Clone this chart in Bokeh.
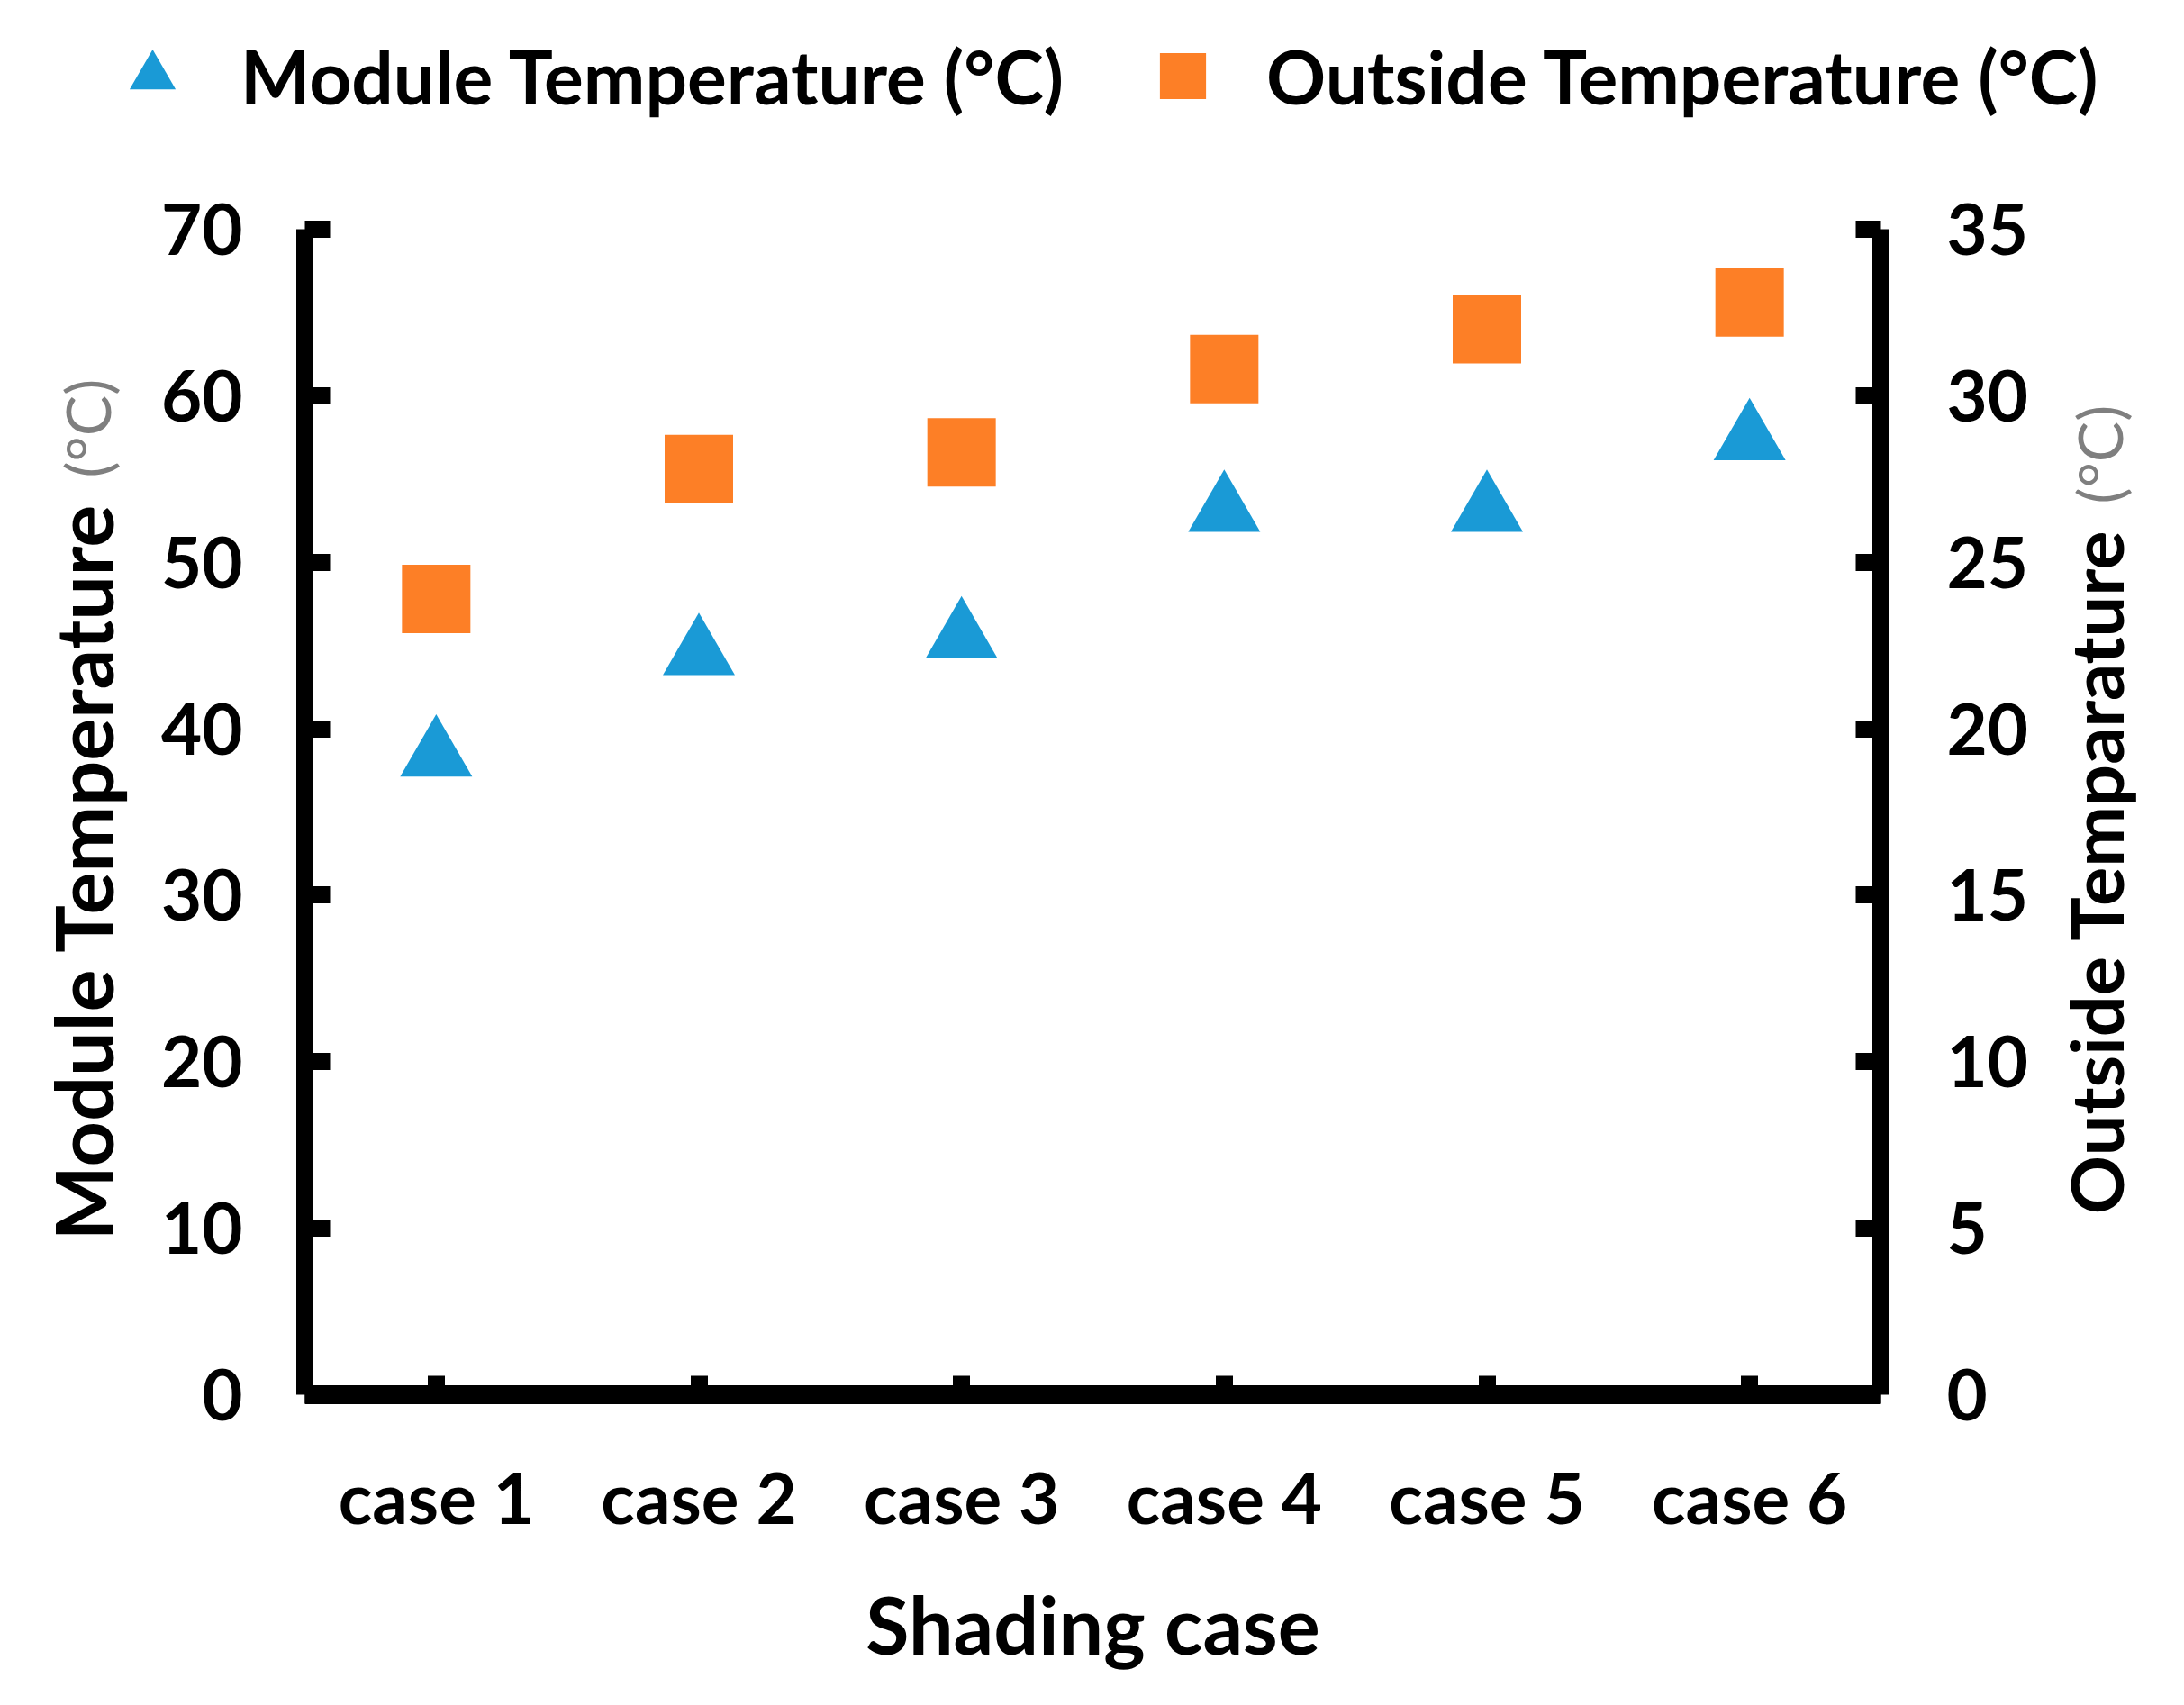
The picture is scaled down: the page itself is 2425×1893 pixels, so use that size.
from bokeh.plotting import figure
from bokeh.models import (FactorRange, Range1d, LinearAxis, FixedTicker,
                          Legend, LegendItem, ColumnDataSource)
from bokeh.layouts import column, row
from bokeh.transform import dodge
from bokeh.core.properties import value
from bokeh.embed import file_html
from bokeh.resources import INLINE

# ---- data ----
cases = ["case 1", "case 2", "case 3", "case 4", "case 5", "case 6"]
module_temp = [39.0, 45.1, 46.1, 53.7, 53.7, 58.0]     # left axis (°C)
outside_temp = [23.9, 27.8, 28.3, 30.8, 32.0, 32.8]    # right axis (°C)
left_ticks = [0, 10, 20, 30, 40, 50, 60, 70]
right_ticks = [0, 5, 10, 15, 20, 25, 30, 35]

left_title = ["Module Temperature", "(°C)"]
right_title = ["Outside Temparature", "(°C)"]
x_title = "Shading case"
legend_labels = ["Module Temperature (°C)", "Outside Temperature (°C)"]

BLUE = "#1a9ad6"
ORANGE = "#fd7f26"
GRAY = "#7f7f7f"
FONT = "Lato"
TICK_FS = "78px"
LEG_FS = "82px"
ANG = 1.5707963267948966

W = 2400
TOP_H = 168
LW, RW = 160, 135
ROW_H = 1697
MW = W - LW - RW
FRAME_W, FRAME_H = 1750, 1294
BL, BT = 178, 86
TRI_SIZE = 80
# Bokeh anchors a triangle at its centroid; shift so the marker's box is centred
TRI_SHIFT = -0.289 * (TRI_SIZE / 2) * 70 / FRAME_H


def bare_fig(w, h):
    f = figure(width=w, height=h, x_range=Range1d(0, w), y_range=Range1d(0, h),
               output_backend="svg", toolbar_location=None,
               x_axis_location=None, y_axis_location=None,
               min_border=0, min_border_left=0, min_border_right=0,
               min_border_top=0, min_border_bottom=0)
    f.outline_line_color = None
    f.xgrid.visible = False
    f.ygrid.visible = False
    return f

# ---------------- main plot ----------------
src = ColumnDataSource(dict(case=cases, module=module_temp, outside=outside_temp))

p = figure(width=MW, height=ROW_H,
           x_range=FactorRange(*cases, range_padding=0),
           y_range=Range1d(0, 70),
           output_backend="svg", toolbar_location=None,
           min_border_left=BL, min_border_right=MW - BL - FRAME_W,
           min_border_top=BT, min_border_bottom=ROW_H - BT - FRAME_H)
p.extra_y_ranges = {"right": Range1d(0, 35)}
p.outline_line_color = None
p.xgrid.visible = False
p.ygrid.visible = False

right_axis = LinearAxis(y_range_name="right")
p.add_layout(right_axis, "right")


def style_y(ax, ticks, standoff):
    ax.ticker = FixedTicker(ticks=ticks)
    ax.axis_line_width = 19
    ax.axis_line_color = "black"
    ax.major_tick_line_width = 19
    ax.major_tick_line_color = "black"
    ax.major_tick_in = 28
    ax.major_tick_out = 0
    ax.minor_tick_line_color = None
    ax.major_label_standoff = standoff
    ax.major_label_text_font = FONT
    ax.major_label_text_font_style = "bold"
    ax.major_label_text_font_size = TICK_FS
    ax.major_label_text_color = "black"


style_y(p.yaxis[0], left_ticks, 69)
style_y(right_axis, right_ticks, 73)

xa = p.xaxis[0]
xa.axis_line_width = 21
xa.axis_line_color = "black"
xa.major_tick_line_width = 19
xa.major_tick_line_color = "black"
xa.major_tick_in = 21
xa.major_tick_out = 0
xa.minor_tick_line_color = None
xa.major_label_standoff = 66
xa.major_label_text_font = FONT
xa.major_label_text_font_style = "bold"
xa.major_label_text_font_size = TICK_FS
xa.major_label_text_color = "black"
xa.axis_label = x_title
xa.axis_label_text_font = FONT
xa.axis_label_text_font_style = "bold"
xa.axis_label_text_font_size = "88px"
xa.axis_label_text_color = "black"
xa.axis_label_standoff = 38

p.scatter(x="case", y=dodge("module", TRI_SHIFT), source=src, marker="triangle",
          size=TRI_SIZE, fill_color=BLUE, line_color=None)
p.scatter(x="case", y="outside", source=src, y_range_name="right",
          marker="square", size=76, fill_color=ORANGE, line_color=None)

# ---------------- legend strip ----------------
top = bare_fig(W, TOP_H)
# legend proxies: kept outside the strip's visible range so only the legend shows them
proxy = ColumnDataSource(dict(x=[-5000], y=[-5000]))
leg_tri = top.scatter(x="x", y="y", source=proxy, marker="triangle",
                      fill_color=BLUE, line_color=None)
leg_sq = top.scatter(x="x", y="y", source=proxy, marker="square",
                     fill_color=ORANGE, line_color=None)


def make_legend(label, rend, loc, standoff):
    return Legend(items=[LegendItem(label=label, renderers=[rend])],
                  location=loc, orientation="horizontal",
                  glyph_width=128, glyph_height=128, label_standoff=standoff,
                  padding=0, margin=0, spacing=0,
                  border_line_color=None, background_fill_alpha=0,
                  label_text_font=FONT, label_text_font_style="bold",
                  label_text_font_size=LEG_FS, label_text_color="black")


top.add_layout(make_legend(legend_labels[0], leg_tri, (105, 20), 34))
top.add_layout(make_legend(legend_labels[1], leg_sq, (1249, 20), 29))

# ---------------- axis titles (two colours) ----------------
def vtext(f, x, y, txt, align, size, color, style):
    f.text(x=[x], y=[y], text=[txt], angle=ANG, text_align=align,
           text_baseline="middle", text_font=value(FONT), text_font_style=style,
           text_font_size=size, text_color=color)


left = bare_fig(LW, ROW_H)
vtext(left, 91, ROW_H - 398, left_title[0], "right", "88px", "black", "bold")
vtext(left, 96, ROW_H - 362, left_title[1], "left", "68px", GRAY, "normal")

right = bare_fig(RW, ROW_H)
vtext(right, 61, ROW_H - 436, right_title[0], "right", "81px", "black", "bold")
vtext(right, 65, ROW_H - 400, right_title[1], "left", "68px", GRAY, "normal")

layout = column(top, row(left, p, right, spacing=0), spacing=0)

open("out.html", "w").write(file_html(layout, INLINE))
